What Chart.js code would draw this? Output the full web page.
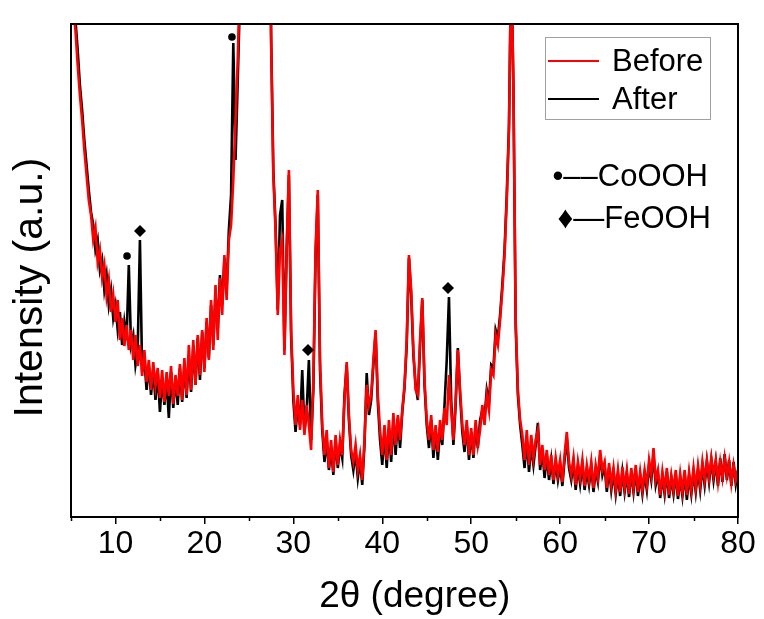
<!DOCTYPE html>
<html><head><meta charset="utf-8">
<script src="https://cdn.jsdelivr.net/npm/chart.js@4/dist/chart.umd.min.js"></script>
<style>html,body{margin:0;padding:0;background:#fff}#wrap{width:764px;height:619px;position:relative}</style>
</head><body><div id="wrap"><canvas id="c" width="764" height="619"></canvas></div>
<script>
// 2θ grid (degree)
const twoTheta = [
5,5.25,5.5,5.75, 6,6.25,6.5,6.75, 7,7.25,7.5,7.75, 8,8.25,8.5,8.75, 9,9.25,9.5,9.75,
10,10.25,10.5,10.75, 11,11.25,11.5,11.75, 12,12.25,12.5,12.75, 13,13.25,13.5,13.75, 14,14.25,14.5,14.75,
15,15.25,15.5,15.75, 16,16.25,16.5,16.75, 17,17.25,17.5,17.75, 18,18.25,18.5,18.75, 19,19.25,19.5,19.75,
20,20.25,20.5,20.75, 21,21.25,21.5,21.75, 22,22.25,22.5,22.75, 23,23.25,23.5,23.75, 24,24.25,24.5,24.75,
25,25.25,25.5,25.75, 26,26.25,26.5,26.75, 27,27.25,27.5,27.75, 28,28.25,28.5,28.75, 29,29.25,29.5,29.75,
30,30.25,30.5,30.75, 31,31.25,31.5,31.75, 32,32.25,32.5,32.75, 33,33.25,33.5,33.75, 34,34.25,34.5,34.75,
35,35.25,35.5,35.75, 36,36.25,36.5,36.75, 37,37.25,37.5,37.75, 38,38.25,38.5,38.75, 39,39.25,39.5,39.75,
40,40.25,40.5,40.75, 41,41.25,41.5,41.75, 42,42.25,42.5,42.75, 43,43.25,43.5,43.75, 44,44.25,44.5,44.75,
45,45.25,45.5,45.75, 46,46.25,46.5,46.75, 47,47.25,47.5,47.75, 48,48.25,48.5,48.75, 49,49.25,49.5,49.75,
50,50.25,50.5,50.75, 51,51.25,51.5,51.75, 52,52.25,52.5,52.75, 53,53.25,53.5,53.75, 54,54.25,54.5,54.75,
55,55.25,55.5,55.75, 56,56.25,56.5,56.75, 57,57.25,57.5,57.75, 58,58.25,58.5,58.75, 59,59.25,59.5,59.75,
60,60.25,60.5,60.75, 61,61.25,61.5,61.75, 62,62.25,62.5,62.75, 63,63.25,63.5,63.75, 64,64.25,64.5,64.75,
65,65.25,65.5,65.75, 66,66.25,66.5,66.75, 67,67.25,67.5,67.75, 68,68.25,68.5,68.75, 69,69.25,69.5,69.75,
70,70.25,70.5,70.75, 71,71.25,71.5,71.75, 72,72.25,72.5,72.75, 73,73.25,73.5,73.75, 74,74.25,74.5,74.75,
75,75.25,75.5,75.75, 76,76.25,76.5,76.75, 77,77.25,77.5,77.75, 78,78.25,78.5,78.75, 79,79.25,79.5,79.75,
80];

// Intensity (a.u.), Before (red)
const before = [
650,507,487,452, 422,397,367,342, 317,302,277,289, 255,267,239,252, 221,237,205,222,
195,217,177,199, 171,192,167,187, 157,182,151,172, 141,167,135,157, 127,155,131,149,
119,147,115,145, 121,151,113,142, 121,153,117,159, 122,172,127,177, 132,182,142,187,
145,199,157,217, 167,232,177,239, 202,262,217,277, 292,337,397,457, 540,700,700,700,
700,700,700,700, 700,700,700,700, 700,700,477,342, 287,202,267,277, 162,267,347,187,
127,92,122,87, 117,82,112,92, 67,137,267,327, 157,92,62,87, 49,77,45,82,
52,77,62,117, 155,102,67,55, 72,47,62,37, 77,132,112,122, 157,187,122,87,
62,92,57,97, 62,104,72,102, 77,107,132,177, 262,227,167,127, 122,177,219,137,
97,77,102,67, 92,65,97,77, 109,92,142,107, 77,117,167,127, 92,72,97,62,
89,62,97,72, 87,112,92,122, 107,147,142,182, 172,197,227,262, 317,387,560,427,
197,127,97,82, 57,87,52,82, 59,77,87,52, 72,47,67,42, 62,37,59,42,
57,35,62,85, 55,42,59,32, 55,39,57,31, 52,37,55,29, 52,39,67,47,
55,29,54,32, 49,27,47,25, 50,29,47,23, 49,29,52,25, 45,27,47,32,
57,42,69,37, 47,22,45,27, 49,22,42,27, 47,21,43,25, 47,22,45,27,
49,29,51,32, 55,37,57,39, 59,42,57,35, 55,39,59,41, 55,34,52,37,
47];

// Intensity (a.u.), After (black)
const after = [
650,540,497,467, 432,407,377,352, 327,305,292,267, 277,247,257,227, 242,212,227,199,
212,187,205,172, 195,177,252,172, 182,152,167,277, 145,157,127,152, 122,147,117,145,
105,139,112,137, 99,145,109,139, 112,149,115,152, 119,162,125,172, 132,179,137,185,
149,195,159,212, 172,225,187,242, 212,259,227,287, 322,474,357,437, 520,700,700,700,
700,700,700,700, 700,700,700,700, 700,700,482,347, 292,207,302,317, 167,267,342,182,
117,85,112,92, 147,85,107,157, 77,127,262,322, 147,87,55,77, 47,69,42,77,
49,72,59,122, 152,97,62,47, 65,39,57,32, 72,144,102,117, 152,184,115,77,
52,85,49,89, 55,97,62,99, 69,105,129,172, 259,222,162,132, 117,172,217,132,
92,69,97,59, 87,57,89,72, 112,157,220,117, 72,112,169,122, 85,65,92,57,
85,59,92,69, 97,107,99,127, 115,152,149,187, 179,202,232,267, 322,392,560,429,
192,122,92,72, 49,77,45,72, 52,72,94,47, 67,39,62,37, 57,33,55,37,
52,31,57,79, 49,37,55,27, 51,33,52,27, 47,32,51,25, 47,35,62,42,
51,25,49,27, 45,23,43,21, 45,25,43,20, 45,25,47,21, 41,23,43,27,
52,37,62,32, 43,19,41,23, 45,19,39,23, 43,18,39,21, 43,17,41,23,
45,25,47,27, 51,32,55,35, 57,37,55,31, 59,35,63,37, 57,31,55,33,
47];

// Phase markers
const coX = [11.3, 23.1];
const coY = [261, 480];
const feX = [12.76, 31.65, 47.39];
const feY = [286, 167, 229];

// Axis ticks
const xMajorTicks = [10, 20, 30, 40, 50, 60, 70, 80];
const xMinorTicks = [5, 15, 25, 35, 45, 55, 65, 75];
const xMin = 5, xMax = 80, yMin = 0, yMax = 493;

const FONT = "'Liberation Sans', Arial, sans-serif";

const pts = (xs, ys) => xs.map((x, i) => ({x: x, y: ys[i]}));

const framePlugin = {
  id: 'frame',
  afterDraw(chart) {
    const ctx = chart.ctx;
    const a = chart.chartArea;
    const xs = chart.scales.x;
    ctx.save();
    ctx.strokeStyle = '#000';
    ctx.lineWidth = 2;
    ctx.strokeRect(a.left, a.top, a.right - a.left, a.bottom - a.top);
    ctx.lineWidth = 1.5;
    xMinorTicks.forEach(v => {
      const px = Math.round(xs.getPixelForValue(v)) + 0.5;
      ctx.beginPath(); ctx.moveTo(px, a.bottom); ctx.lineTo(px, a.bottom + 4); ctx.stroke();
    });
    // legend
    const lx = 545, ly = 37, lw = 165, lh = 82;
    ctx.lineWidth = 1;
    ctx.strokeStyle = '#a0a0a0';
    ctx.strokeRect(lx + 0.5, ly + 0.5, lw, lh);
    const items = chart.data.datasets.filter(d => d.label === 'Before' || d.label === 'After');
    ctx.font = '31px ' + FONT;
    ctx.textBaseline = 'alphabetic';
    ctx.textAlign = 'left';
    items.forEach((d, i) => {
      const y = 61 + i * 38;
      ctx.strokeStyle = d.borderColor;
      ctx.lineWidth = 2;
      ctx.beginPath(); ctx.moveTo(548, y); ctx.lineTo(599, y); ctx.stroke();
      ctx.fillStyle = '#000';
      ctx.fillText(d.label, 612, y + 10);
    });
    // phase annotation
    ctx.textAlign = 'right';
    ctx.fillText('\u2022\u2013\u2013CoOOH', 708, 186);
    ctx.fillText('\u2666\u2014FeOOH', 711, 228);
    ctx.restore();
  }
};

new Chart(document.getElementById('c'), {
  type: 'line',
  data: {
    datasets: [
      {label: 'CoOOH', type: 'scatter', data: pts(coX, coY), pointStyle: 'circle', pointRadius: 3.8,
       backgroundColor: '#000', borderColor: '#000', borderWidth: 0, order: 0, showLine: false},
      {label: 'FeOOH', type: 'scatter', data: pts(feX, feY), pointStyle: 'rectRot', pointRadius: 6,
       backgroundColor: '#000', borderColor: '#000', borderWidth: 0, order: 0, showLine: false},
      {label: 'Before', data: pts(twoTheta, before), borderColor: '#ff0000', borderWidth: 2.6,
       pointRadius: 0, tension: 0, order: 1},
      {label: 'After', data: pts(twoTheta, after), borderColor: '#000000', borderWidth: 2.6,
       pointRadius: 0, tension: 0, order: 2}
    ]
  },
  options: {
    responsive: false,
    animation: false,
    devicePixelRatio: 1,
    layout: {padding: {top: 24, right: 26, left: 0, bottom: 0}},
    plugins: {legend: {display: false}, tooltip: {enabled: false}},
    scales: {
      x: {
        type: 'linear', position: 'bottom', min: xMin, max: xMax,
        afterBuildTicks: s => { s.ticks = xMajorTicks.map(v => ({value: v})); },
        afterFit: s => { s.height = 102; },
        grid: {drawOnChartArea: false, drawTicks: true, tickLength: 7, color: '#000', lineWidth: 1.5},
        border: {display: true, color: '#000', width: 2},
        ticks: {color: '#000', font: {family: FONT, size: 32}, padding: 1, maxRotation: 0, autoSkip: false},
        title: {display: true, text: '\u00a0\u00a02θ (degree)', color: '#000', font: {family: FONT, size: 37}, padding: {top: 0, bottom: 0}}
      },
      y: {
        type: 'linear', min: yMin, max: yMax,
        afterFit: s => { s.width = 71; },
        grid: {display: false},
        border: {display: true, color: '#000', width: 2},
        ticks: {display: false},
        title: {display: true, text: 'Intensity (a.u.)\u00a0\u00a0\u00a0', color: '#000', font: {family: FONT, size: 41}, padding: {top: 6, bottom: 0}}
      }
    }
  },
  plugins: [framePlugin]
});
</script>
</body></html>
